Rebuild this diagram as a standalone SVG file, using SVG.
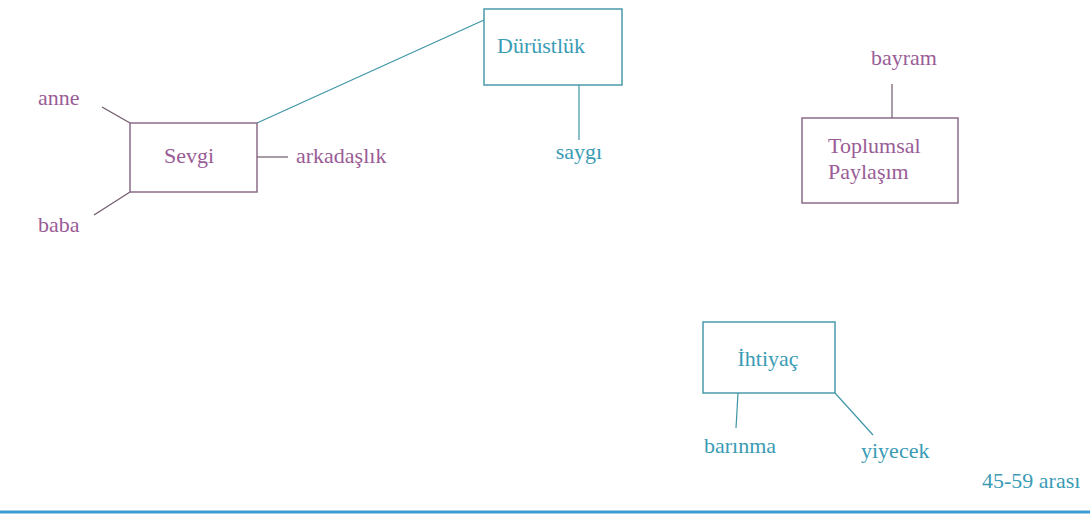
<svg xmlns="http://www.w3.org/2000/svg" width="1090" height="524" viewBox="0 0 1090 524">
<style>
text{font-family:"Liberation Serif","Times New Roman",serif;font-size:22px}
.p{fill:#9a5c96}
.t{fill:#3a9bb5}
.bp{fill:#fff;stroke:#8b6b88;stroke-width:1.5}
.bt{fill:#fff;stroke:#4a9aab;stroke-width:1.5}
.lp{stroke:#6f5a6d;stroke-width:1.2;fill:none}
.lt{stroke:#3f95a6;stroke-width:1.2;fill:none}
</style>
<rect width="1090" height="524" fill="#fff"/>
<g id="connectors">
<line class="lp" x1="102" y1="107" x2="130" y2="123"/>
<line class="lp" x1="94" y1="215" x2="130" y2="192"/>
<line class="lp" x1="257" y1="157" x2="288" y2="157"/>
<line class="lt" x1="257" y1="123" x2="484" y2="20"/>
<line class="lt" x1="579" y1="85" x2="579" y2="140"/>
<line class="lp" x1="892" y1="84" x2="892" y2="118"/>
<line class="lt" x1="738" y1="393" x2="736" y2="428"/>
<line class="lt" x1="835" y1="393" x2="873" y2="435"/>
</g>
<g id="sevgi">
<rect class="bp" x="130" y="123" width="127" height="69"/>
<text class="p" x="189" y="163" text-anchor="middle">Sevgi</text>
</g>
<g id="anne"><text class="p" x="38" y="105">anne</text></g>
<g id="baba"><text class="p" x="38" y="232">baba</text></g>
<g id="arkadaslik"><text class="p" x="296" y="163">arkadaşlık</text></g>
<g id="durustluk">
<rect class="bt" x="484" y="9" width="138" height="76"/>
<text class="t" x="497" y="53">Dürüstlük</text>
</g>
<g id="saygi"><text class="t" x="579" y="159" text-anchor="middle">saygı</text></g>
<g id="toplumsal">
<rect class="bp" x="802" y="118" width="156" height="85"/>
<text class="p" x="828" y="153">Toplumsal</text>
<text class="p" x="828" y="179">Paylaşım</text>
</g>
<g id="bayram"><text class="p" x="871" y="65">bayram</text></g>
<g id="ihtiyac">
<rect class="bt" x="703" y="322" width="132" height="71"/>
<text class="t" x="768" y="366" text-anchor="middle">İhtiyaç</text>
</g>
<g id="barinma"><text class="t" x="704" y="453">barınma</text></g>
<g id="yiyecek"><text class="t" x="861" y="458">yiyecek</text></g>
<g id="yas"><text class="t" x="982" y="488">45-59 arası</text></g>
<line x1="0" y1="512" x2="1090" y2="512" stroke="#3b9bd4" stroke-width="3"/>
</svg>
